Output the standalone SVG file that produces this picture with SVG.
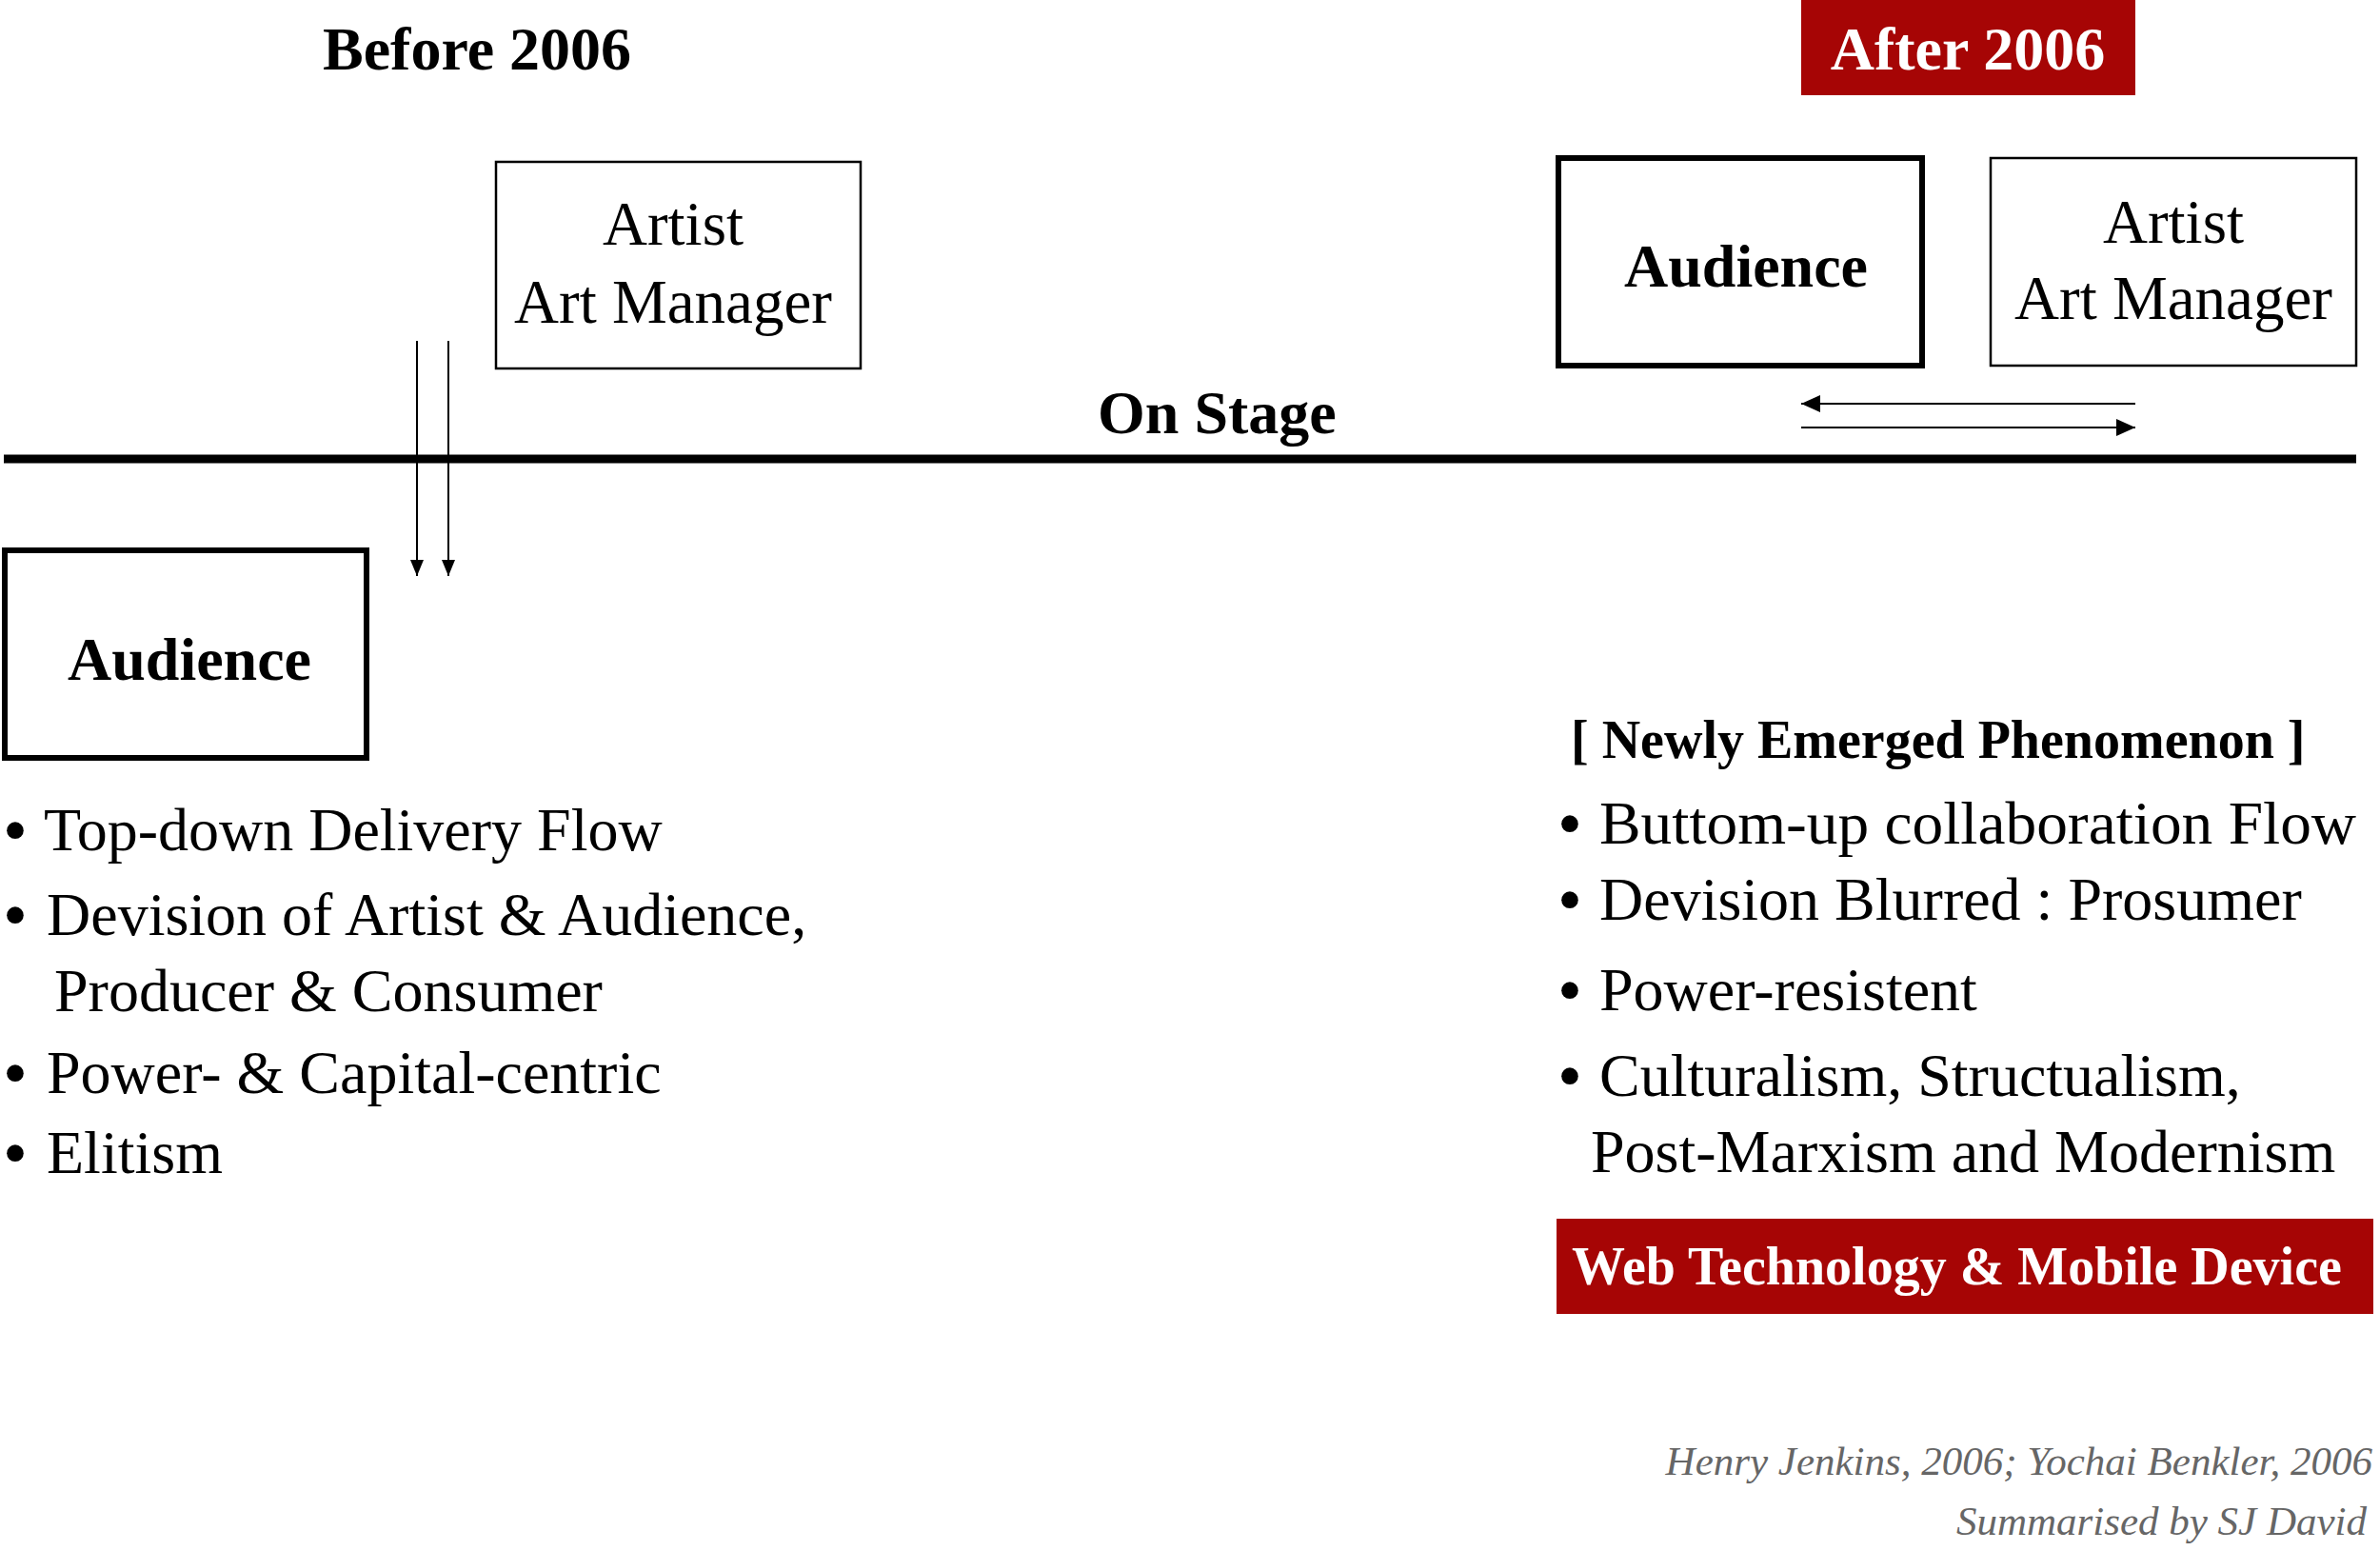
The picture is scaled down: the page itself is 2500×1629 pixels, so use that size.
<svg xmlns="http://www.w3.org/2000/svg" width="2500" height="1629" viewBox="0 0 2500 1629">
<style>
text{font-family:"Liberation Serif","Times New Roman",serif;fill:#000}
.b{font-weight:bold}
.title{font-size:64px;font-weight:bold}
.lbl{font-size:65px;text-anchor:middle}
.aud{font-size:64px;font-weight:bold;text-anchor:middle}
.bul{font-size:64px}
.dot{font-size:74px}
.white{fill:#fff}
.thin{fill:#fff;stroke:#000;stroke-width:2.5}
.thick{fill:#fff;stroke:#000;stroke-width:6}
.red{fill:#A60505}
.cite{font-size:43px;font-style:italic;fill:#666;text-anchor:end}
.conn{stroke:#000;stroke-width:2;fill:none}
</style>
<defs>
<marker id="ahv" markerUnits="userSpaceOnUse" markerWidth="18" markerHeight="16" refX="17" refY="7" orient="auto">
<path d="M0,0 L17,7 L0,14 Z" fill="#000"/>
</marker>
<marker id="ahh" markerUnits="userSpaceOnUse" markerWidth="22" markerHeight="20" refX="20" refY="9" orient="auto">
<path d="M0,0 L20,9 L0,18 Z" fill="#000"/>
</marker>
</defs>
<rect width="2500" height="1629" fill="#fff"/>

<g id="before-title"><text class="title" x="339" y="73">Before 2006</text></g>

<g id="after-title">
<rect class="red" x="1892" y="0" width="351" height="100"/>
<text class="title white" x="2067" y="73" text-anchor="middle">After 2006</text>
</g>

<g id="stage">
<line x1="4" y1="482" x2="2475" y2="482" stroke="#000" stroke-width="9"/>
<text class="title" x="1153" y="455">On Stage</text>
</g>

<g id="artist-before">
<rect class="thin" x="521" y="170" width="383" height="217"/>
<text class="lbl" x="707" y="257">Artist</text>
<text class="lbl" x="707" y="339">Art Manager</text>
</g>

<g id="audience-before">
<rect class="thick" x="5" y="578" width="380" height="218"/>
<text class="aud" x="199" y="714">Audience</text>
</g>

<g id="audience-after">
<rect class="thick" x="1637" y="166" width="382" height="218"/>
<text class="aud" x="1834" y="301">Audience</text>
</g>

<g id="artist-after">
<rect class="thin" x="2091" y="166" width="384" height="218"/>
<text class="lbl" x="2283" y="255">Artist</text>
<text class="lbl" x="2283" y="335">Art Manager</text>
</g>

<g id="connectors">
<line class="conn" x1="438" y1="358" x2="438" y2="605" marker-end="url(#ahv)"/>
<line class="conn" x1="471" y1="358" x2="471" y2="605" marker-end="url(#ahv)"/>
<line class="conn" x1="2243" y1="424" x2="1892" y2="424" marker-end="url(#ahh)"/>
<line class="conn" x1="1892" y1="449" x2="2243" y2="449" marker-end="url(#ahh)"/>
</g>

<g id="before-list">
<text class="dot" x="3" y="897">•</text><text class="bul" x="46" y="893">Top-down Delivery Flow</text>
<text class="dot" x="3" y="986">•</text><text class="bul" x="49" y="982">Devision of Artist &amp; Audience,</text>
<text class="bul" x="57" y="1062">Producer &amp; Consumer</text>
<text class="dot" x="3" y="1152">•</text><text class="bul" x="49" y="1148">Power- &amp; Capital-centric</text>
<text class="dot" x="3" y="1236">•</text><text class="bul" x="49" y="1232">Elitism</text>
</g>

<g id="after-list">
<text class="b" x="1650" y="796" font-size="56">[ Newly Emerged Phenomenon ]</text>
<text class="dot" x="1636" y="890">•</text><text class="bul" x="1680" y="886" textLength="795" lengthAdjust="spacingAndGlyphs">Buttom-up collaboration Flow</text>
<text class="dot" x="1636" y="970">•</text><text class="bul" x="1680" y="966">Devision Blurred : Prosumer</text>
<text class="dot" x="1636" y="1065">•</text><text class="bul" x="1680" y="1061">Power-resistent</text>
<text class="dot" x="1636" y="1155">•</text><text class="bul" x="1680" y="1151">Culturalism, Structualism,</text>
<text class="bul" x="1671" y="1231">Post-Marxism and Modernism</text>
</g>

<g id="web-tech">
<rect class="red" x="1635" y="1280" width="858" height="100"/>
<text class="b white" x="1651" y="1349" font-size="56">Web Technology &amp; Mobile Device</text>
</g>

<g id="citation">
<text class="cite" x="2492" y="1549">Henry Jenkins, 2006; Yochai Benkler, 2006</text>
<text class="cite" x="2486" y="1612">Summarised by SJ David</text>
</g>
</svg>
